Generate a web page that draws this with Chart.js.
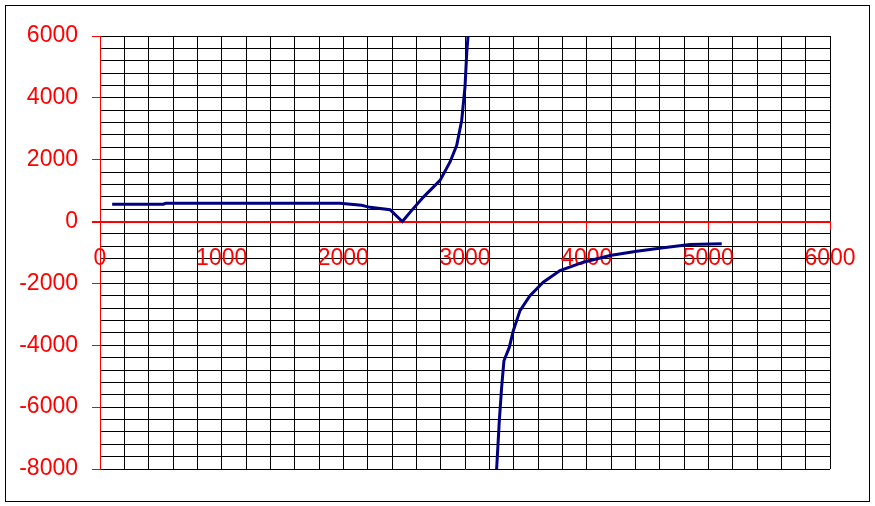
<!DOCTYPE html>
<html>
<head>
<meta charset="utf-8">
<script src="https://cdn.jsdelivr.net/npm/chart.js@4"></script>
<style>
  html, body { margin: 0; padding: 0; background: #ffffff; }
  canvas { display: block; }
</style>
</head>
<body>
<canvas id="c" width="875" height="506"></canvas>
<script>
// Series values (null marks the break between the two branches)
const xValues = [100, 520, 540, 1000, 1500, 1970, 2150, 2220, 2384, 2485, 2562, 2658, 2795, 2877, 2932, 2973, 3000, 3014, 3025,
                 null,
                 3260, 3282, 3301, 3320, 3364, 3397, 3452, 3534, 3643, 3781, 3973, 4192, 4411, 4630, 4849, 5110];
const yValues = [560, 560, 590, 590, 590, 590, 525, 460, 384, 0, 361, 792, 1333, 1927, 2468, 3278, 4357, 5438, 6000,
                 null,
                 -8000, -6445, -5365, -4500, -4069, -3528, -2880, -2393, -1962, -1584, -1314, -1097, -957, -849, -742, -720];
// Axis ranges and tick labels
const xTickLabels = [0, 1000, 2000, 3000, 4000, 5000, 6000];
const yTickLabels = [6000, 4000, 2000, 0, -2000, -4000, -6000, -8000];

const points = xValues.map((x, i) => ({ x: x === null ? NaN : x, y: yValues[i] }));

const RED = '#ff0000';
const FONT = { family: "'Liberation Sans', Arial, sans-serif", size: 23 };

const framePlugin = {
  id: 'frame',
  beforeDatasetsDraw(chart) {
    const ctx = chart.ctx;
    const a = chart.chartArea;
    const y0 = Math.round(chart.scales.y.getPixelForValue(0)) + 0.5;
    const x0 = Math.round(chart.scales.x.getPixelForValue(0)) + 0.5;
    ctx.save();
    ctx.strokeStyle = RED;
    ctx.lineWidth = 1;
    ctx.beginPath();
    ctx.moveTo(a.left - 8, y0);
    ctx.lineTo(a.right, y0);
    ctx.moveTo(x0, a.top);
    ctx.lineTo(x0, a.bottom);
    ctx.stroke();
    ctx.restore();
  },
  afterDraw(chart) {
    const ctx = chart.ctx;
    ctx.save();
    ctx.strokeStyle = '#000000';
    ctx.lineWidth = 1;
    ctx.strokeRect(5.5, 5.5, 864, 496);
    ctx.restore();
  }
};

new Chart(document.getElementById('c'), {
  type: 'scatter',
  data: {
    datasets: [{
      data: points,
      showLine: true,
      borderColor: '#000080',
      borderWidth: 3,
      pointRadius: 0,
      pointHoverRadius: 0,
      tension: 0,
      spanGaps: false
    }]
  },
  options: {
    responsive: false,
    devicePixelRatio: 1,
    animation: false,
    events: [],
    layout: { padding: { left: 0, top: 36, right: 45, bottom: 37 } },
    plugins: { legend: { display: false }, tooltip: { enabled: false } },
    scales: {
      x: {
        type: 'linear',
        min: 0, max: 6000,
        position: { y: 0 },
        border: { display: true, color: RED, width: 1 },
        grid: {
          color: c => (c.tick && c.tick.value === 0) ? RED : '#000000',
          lineWidth: 1,
          tickLength: 8,
          tickColor: c => (c.tick && xTickLabels.includes(c.tick.value)) ? RED : 'rgba(0,0,0,0)'
        },
        ticks: {
          stepSize: 200,
          autoSkip: false,
          maxRotation: 0,
          padding: 15,
          color: RED,
          font: FONT,
          callback: v => xTickLabels.includes(v) ? String(v) : ''
        }
      },
      y: {
        type: 'linear',
        min: -8000, max: 6000,
        position: 'left',
        afterFit: s => { s.width = 100; },
        border: { display: true, color: RED, width: 1 },
        grid: {
          color: c => (c.tick && c.tick.value === 0) ? RED : '#000000',
          lineWidth: 1,
          tickLength: 8,
          tickColor: c => (c.tick && yTickLabels.includes(c.tick.value)) ? RED : 'rgba(0,0,0,0)'
        },
        ticks: {
          stepSize: 400,
          autoSkip: false,
          padding: 14,
          color: RED,
          font: FONT,
          callback: v => yTickLabels.includes(v) ? String(v) : ''
        }
      }
    }
  },
  plugins: [framePlugin]
});
</script>
</body>
</html>
